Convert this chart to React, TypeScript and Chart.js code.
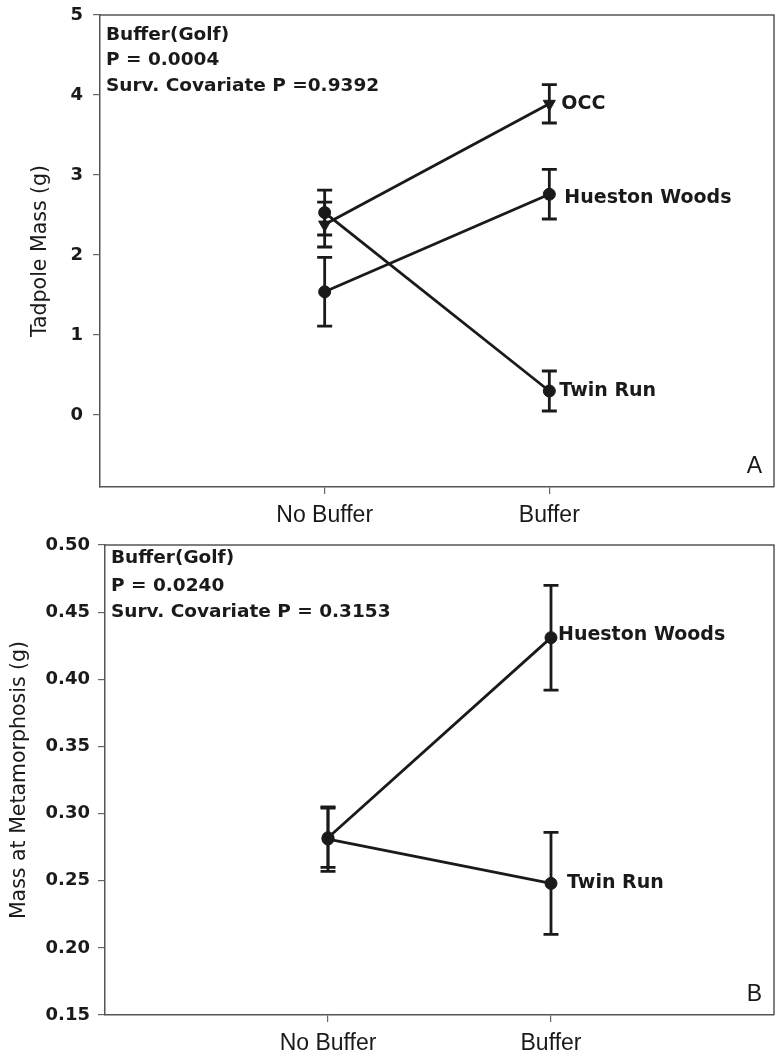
import { useEffect, useRef } from 'react';
import { Chart, registerables } from 'chart.js';

Chart.register(...registerables);

// ---------- shared categories ----------
const categories = ['No Buffer', 'Buffer'];
const categoryPositions = [1, 2];

// ---------- Panel A: Tadpole mass ----------
const aTitle = 'Tadpole Mass (g)';
const aPanelLetter = 'A';
const aNotes = ['Buffer(Golf)', 'P = 0.0004', 'Surv. Covariate P =0.9392'];
const aYTicks = [0, 1, 2, 3, 4, 5];
const aOCC = [2.38, 3.89];
const aOCCErr = [0.28, 0.24];
const aHueston = [1.54, 2.76];
const aHuestonErr = [0.43, 0.31];
const aTwin = [2.53, 0.3];
const aTwinErr = [0.28, 0.25];

// ---------- Panel B: Mass at metamorphosis ----------
const bTitle = 'Mass at Metamorphosis (g)';
const bPanelLetter = 'B';
const bNotes = ['Buffer(Golf)', 'P = 0.0240', 'Surv. Covariate P = 0.3153'];
const bYTicks = [0.15, 0.2, 0.25, 0.3, 0.35, 0.4, 0.45, 0.5];
const bHueston = [0.282, 0.431];
const bHuestonErr = [0.022, 0.039];
const bTwin = [0.281, 0.248];
const bTwinErr = [0.024, 0.038];

const INK = '#1a1a1a';
const FRAME = '#555555';

type Series = {
  name: string;
  values: number[];
  errors: number[];
  marker: string;
  labelDx: number;
  labelDy: number;
};

type Spec = {
  height: number;
  yMin: number;
  yMax: number;
  yTicks: number[];
  decimals: number;
  yAxisWidth: number;
  xAxisHeight: number;
  padTop: number;
  padRight: number;
  yTickPad: number;
  title: string;
  titleX: number;
  notes: string[];
  noteDy: number[];
  letter: string;
  series: Series[];
};

const specA: Spec = {
  height: 530,
  yMin: -0.9,
  yMax: 5,
  yTicks: aYTicks,
  decimals: 0,
  yAxisWidth: 100,
  xAxisHeight: 43,
  padTop: 15,
  padRight: 7,
  yTickPad: 10,
  title: aTitle,
  titleX: 41,
  notes: aNotes,
  noteDy: [20, 45, 71],
  letter: aPanelLetter,
  series: [
    { name: 'OCC', values: aOCC, errors: aOCCErr, marker: 'triangle', labelDx: 12, labelDy: 0 },
    { name: 'Hueston Woods', values: aHueston, errors: aHuestonErr, marker: 'circle', labelDx: 15, labelDy: 4 },
    { name: 'Twin Run', values: aTwin, errors: aTwinErr, marker: 'circle', labelDx: 10, labelDy: 0 },
  ],
};

const specB: Spec = {
  height: 531,
  yMin: 0.15,
  yMax: 0.5,
  yTicks: bYTicks,
  decimals: 2,
  yAxisWidth: 105,
  xAxisHeight: 46,
  padTop: 15,
  padRight: 8,
  yTickPad: 8,
  title: bTitle,
  titleX: 20,
  notes: bNotes,
  noteDy: [13, 41, 67],
  letter: bPanelLetter,
  series: [
    { name: 'Hueston Woods', values: bHueston, errors: bHuestonErr, marker: 'circle', labelDx: 7, labelDy: -3 },
    { name: 'Twin Run', values: bTwin, errors: bTwinErr, marker: 'circle', labelDx: 16, labelDy: 0 },
  ],
};

function makeChart(canvas: HTMLCanvasElement, spec: Spec) {
  const datasets = spec.series.map((s) => ({
    label: s.name,
    data: categoryPositions.map((x, i) => ({ x, y: s.values[i] })),
    borderColor: INK,
    backgroundColor: INK,
    borderWidth: 2.8,
    pointStyle: s.marker,
    pointRadius: s.marker === 'triangle' ? 7 : 6,
    pointRotation: s.marker === 'triangle' ? 180 : 0,
    pointBorderWidth: 1,
    pointBorderColor: INK,
    pointBackgroundColor: INK,
    showLine: true,
    fill: false,
  }));

  const decor = {
    id: 'decor',
    afterDatasetsDraw(chart: any) {
      const { ctx, chartArea } = chart;
      const xs = chart.scales.x;
      const ys = chart.scales.y;
      const { left, right, top, bottom } = chartArea;
      ctx.save();

      // top and right frame
      ctx.strokeStyle = FRAME;
      ctx.lineWidth = 1.5;
      ctx.beginPath();
      ctx.moveTo(left, top);
      ctx.lineTo(right, top);
      ctx.lineTo(right, bottom);
      ctx.stroke();

      // error bars
      ctx.strokeStyle = INK;
      ctx.lineWidth = 2.8;
      spec.series.forEach((s) => {
        categoryPositions.forEach((xv, i) => {
          const px = xs.getPixelForValue(xv);
          const hi = ys.getPixelForValue(s.values[i] + s.errors[i]);
          const lo = ys.getPixelForValue(s.values[i] - s.errors[i]);
          ctx.beginPath();
          ctx.moveTo(px, hi);
          ctx.lineTo(px, lo);
          ctx.moveTo(px - 7.5, hi);
          ctx.lineTo(px + 7.5, hi);
          ctx.moveTo(px - 7.5, lo);
          ctx.lineTo(px + 7.5, lo);
          ctx.stroke();
        });
      });

      // series labels at last category
      ctx.fillStyle = INK;
      ctx.font = 'bold 19px "DejaVu Sans"';
      ctx.textAlign = 'left';
      ctx.textBaseline = 'middle';
      spec.series.forEach((s) => {
        const last = categoryPositions.length - 1;
        const px = xs.getPixelForValue(categoryPositions[last]);
        const py = ys.getPixelForValue(s.values[last]);
        ctx.fillText(s.name, px + s.labelDx, py + s.labelDy);
      });

      // statistics notes
      ctx.font = 'bold 18.5px "DejaVu Sans"';
      spec.notes.forEach((t, i) => {
        ctx.fillText(t, left + 6, top + spec.noteDy[i]);
      });

      // panel letter
      ctx.font = '23px "Liberation Sans"';
      ctx.textAlign = 'right';
      ctx.textBaseline = 'alphabetic';
      ctx.fillText(spec.letter, right - 12, bottom - 14);

      // y-axis title
      ctx.font = '20.5px "DejaVu Sans"';
      ctx.textAlign = 'center';
      ctx.textBaseline = 'middle';
      ctx.translate(spec.titleX, (top + bottom) / 2);
      ctx.rotate(-Math.PI / 2);
      ctx.fillText(spec.title, 0, 0);

      ctx.restore();
    },
  };

  return new Chart(canvas, {
    type: 'line',
    data: { datasets } as any,
    plugins: [decor],
    options: {
      responsive: false,
      animation: false,
      events: [],
      layout: { padding: { top: spec.padTop, right: spec.padRight, left: 0, bottom: 0 } },
      plugins: { legend: { display: false }, tooltip: { enabled: false }, title: { display: false } },
      scales: {
        x: {
          type: 'linear',
          min: 0,
          max: 3,
          afterBuildTicks: (axis: any) => {
            axis.ticks = categoryPositions.map((v) => ({ value: v }));
          },
          afterFit: (scale: any) => {
            scale.height = spec.xAxisHeight;
            scale.paddingLeft = 0;
            scale.paddingRight = 0;
          },
          ticks: {
            callback: (_v: any, index: number) => categories[index],
            font: { family: 'Liberation Sans', size: 23 },
            color: INK,
            padding: 8,
            maxRotation: 0,
            autoSkip: false,
          },
          grid: { display: true, drawOnChartArea: false, drawTicks: true, tickLength: 7, color: '#666', lineWidth: 1.2 },
          border: { display: true, color: FRAME, width: 1.5 },
        },
        y: {
          type: 'linear',
          min: spec.yMin,
          max: spec.yMax,
          afterBuildTicks: (axis: any) => {
            axis.ticks = spec.yTicks.map((v) => ({ value: v }));
          },
          afterFit: (scale: any) => {
            scale.width = spec.yAxisWidth;
            scale.paddingTop = 0;
            scale.paddingBottom = 0;
          },
          ticks: {
            callback: (v: any) => Number(v).toFixed(spec.decimals),
            font: { family: 'DejaVu Sans', size: 18, weight: 'bold' },
            color: INK,
            padding: spec.yTickPad,
            autoSkip: false,
          },
          grid: { display: true, drawOnChartArea: false, drawTicks: true, tickLength: 7, color: '#666', lineWidth: 1.2 },
          border: { display: true, color: FRAME, width: 1.5 },
        },
      },
    } as any,
  });
}

export default function App() {
  const refA = useRef<HTMLCanvasElement | null>(null);
  const refB = useRef<HTMLCanvasElement | null>(null);

  useEffect(() => {
    const ca = refA.current;
    const cb = refB.current;
    if (!ca || !cb) return;
    const chA = makeChart(ca, specA);
    const chB = makeChart(cb, specB);
    return () => {
      chA.destroy();
      chB.destroy();
    };
  }, []);

  return (
    <div style={{ position: 'absolute', left: 0, top: 0, width: 782, height: 1061, background: '#ffffff' }}>
      <canvas
        ref={refA}
        width={782}
        height={specA.height}
        style={{ position: 'absolute', left: 0, top: 0, width: 782, height: specA.height, display: 'block' }}
      />
      <canvas
        ref={refB}
        width={782}
        height={specB.height}
        style={{ position: 'absolute', left: 0, top: specA.height, width: 782, height: specB.height, display: 'block' }}
      />
    </div>
  );
}
